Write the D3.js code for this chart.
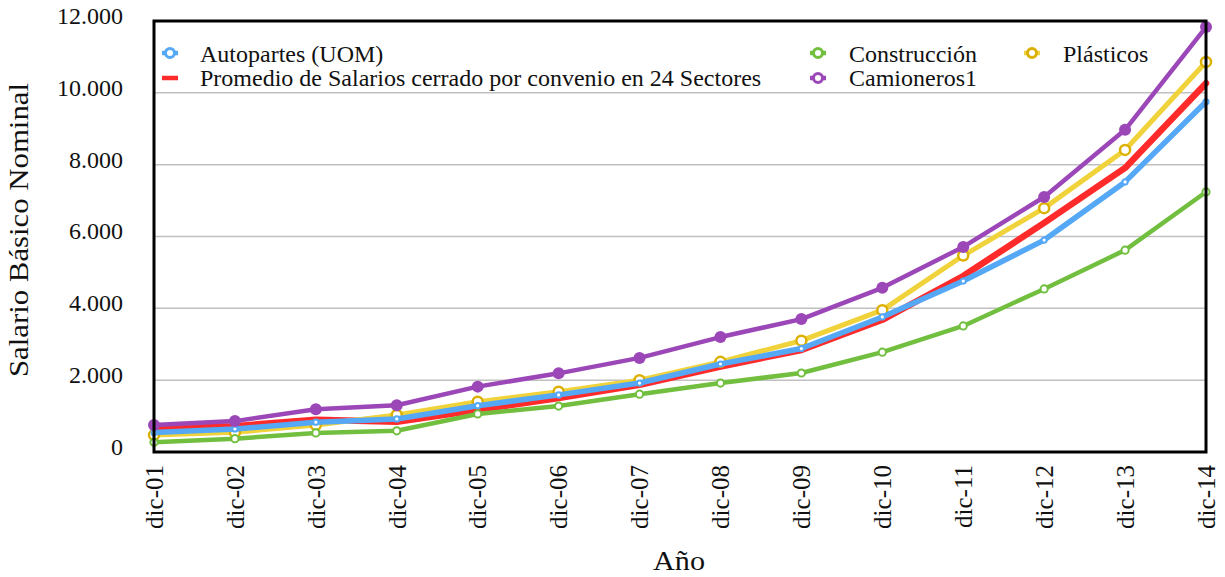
<!DOCTYPE html>
<html><head><meta charset="utf-8">
<script src="https://cdn.jsdelivr.net/npm/d3@7"></script>
<style>body{margin:0;background:#fff;} svg text{font-family:"Liberation Serif",serif !important;}</style>
</head><body><svg id="c" width="1225" height="577"></svg>
<script>
const categories = ["dic-01","dic-02","dic-03","dic-04","dic-05","dic-06","dic-07","dic-08","dic-09","dic-10","dic-11","dic-12","dic-13","dic-14"];
const yTicks = [0,2000,4000,6000,8000,10000,12000];
const autopartes = [540,640,830,920,1290,1590,1920,2450,2880,3760,4760,5900,7520,9750];
const promedio = [680,720,900,840,1170,1500,1870,2380,2840,3680,4900,6380,7910,10270];
const construccion = [270,370,530,590,1060,1280,1610,1920,2200,2780,3510,4540,5620,7240];
const plasticos = [470,550,750,1030,1400,1680,2000,2510,3100,3950,5470,6790,8410,10860];
const camioneros = [750,860,1190,1300,1820,2190,2620,3200,3700,4570,5710,7100,8970,11830];

const series = [
  {name:"Promedio de Salarios cerrado por convenio en 24 Sectores", values:promedio, color:"#ff2b2b", width:6.5, marker:null},
  {name:"Plásticos", values:plasticos, color:"#f0d23a", width:5, marker:{r:5,fill:"#fff",stroke:"#dcb000",sw:2.5}},
  {name:"Autopartes (UOM)", values:autopartes, color:"#55a8f6", width:5.5, marker:{r:2.6,fill:"#fff",stroke:"#55a8f6",sw:2}},
  {name:"Construcción", values:construccion, color:"#72bf3f", width:4.5, marker:{r:3.6,fill:"#fff",stroke:"#72bf3f",sw:2}},
  {name:"Camioneros1", values:camioneros, color:"#9c47b8", width:4.5, marker:{r:6,fill:"#9c47b8",stroke:"#9c47b8",sw:0}}
];

const FONT = "Liberation Serif";
const svg = d3.select("#c");
const L=154, R=1206, T=21, B=452;
const x = d3.scalePoint().domain(categories).range([L,R]);
const y = d3.scaleLinear().domain([0,12000]).range([B,T]);
const fmt = v => d3.format(",")(v).replace(/,/g,".");

// gridlines
svg.append("g").selectAll("line").data(yTicks.filter(t=>t>0&&t<12000)).join("line")
  .attr("x1",L).attr("x2",R).attr("y1",d=>y(d)).attr("y2",d=>y(d))
  .attr("stroke","#c0c0c0").attr("stroke-width",1.5);

// y tick labels
const yAxis = d3.axisLeft(y).tickValues(yTicks).tickFormat(fmt).tickSize(0).tickPadding(31);
const gy = svg.append("g").attr("transform",`translate(${L},0)`).call(yAxis).attr("font-family",FONT);
gy.select(".domain").remove();
gy.selectAll("text").attr("font-size",24).attr("fill","#111").attr("dy","0.1em");

// x tick labels
const xAxis = d3.axisBottom(x).tickSize(0).tickPadding(0);
const gx = svg.append("g").attr("transform",`translate(0,${B})`).call(xAxis).attr("font-family",FONT);
gx.select(".domain").remove();
gx.selectAll("text").attr("font-size",25).attr("fill","#111")
  .attr("transform","rotate(-90)").attr("text-anchor","end").attr("x",-13).attr("y",0).attr("dy","0.33em");

// lines
const line = d3.line().x((d,i)=>x(categories[i])).y(d=>y(d));
series.forEach(s=>{
  svg.append("path").datum(s.values).attr("d",line).attr("fill","none")
    .attr("stroke",s.color).attr("stroke-width",s.width).attr("stroke-linejoin","round").attr("stroke-linecap","round");
  if(s.marker){
    svg.append("g").selectAll("circle").data(s.values).join("circle")
      .attr("cx",(d,i)=>x(categories[i])).attr("cy",d=>y(d)).attr("r",s.marker.r)
      .attr("fill",s.marker.fill).attr("stroke",s.marker.stroke).attr("stroke-width",s.marker.sw);
  }
});

// frame
svg.append("rect").attr("x",L).attr("y",T).attr("width",R-L).attr("height",B-T)
  .attr("fill","none").attr("stroke","#000").attr("stroke-width",3);

// legend
const legend = [
  {s:series[2], mx:170, my:53, tx:200, ty:62},
  {s:series[0], mx:170, my:78, tx:200, ty:86},
  {s:series[3], mx:818, my:53, tx:849, ty:62},
  {s:series[4], mx:818, my:78, tx:849, ty:86},
  {s:series[1], mx:1032, my:53, tx:1063, ty:62}
];
legend.forEach(l=>{
  const g = svg.append("g");
  g.append("line").attr("x1",l.mx-8).attr("x2",l.mx+8).attr("y1",l.my).attr("y2",l.my)
    .attr("stroke",l.s.color).attr("stroke-width",4.5);
  if(l.s.marker){
    g.append("circle").attr("cx",l.mx).attr("cy",l.my).attr("r",4.5)
      .attr("fill","#fff").attr("stroke",l.s.marker.stroke==="#dcb000"?"#dcb000":l.s.color).attr("stroke-width",3);
  }
  g.append("text").attr("x",l.tx).attr("y",l.ty).attr("font-family",FONT).attr("font-size",24).attr("fill","#111").text(l.s.name);
});

// axis titles
svg.append("text").attr("x",679).attr("y",570).attr("text-anchor","middle").attr("font-family",FONT).attr("font-size",27)
  .attr("textLength",52).attr("lengthAdjust","spacingAndGlyphs").attr("fill","#111").text("Año");
svg.append("text").attr("transform","translate(28,230) rotate(-90)").attr("text-anchor","middle").attr("font-family",FONT).attr("font-size",27)
  .attr("textLength",294).attr("lengthAdjust","spacingAndGlyphs").attr("fill","#111").text("Salario Básico Nominal");
</script></body></html>
